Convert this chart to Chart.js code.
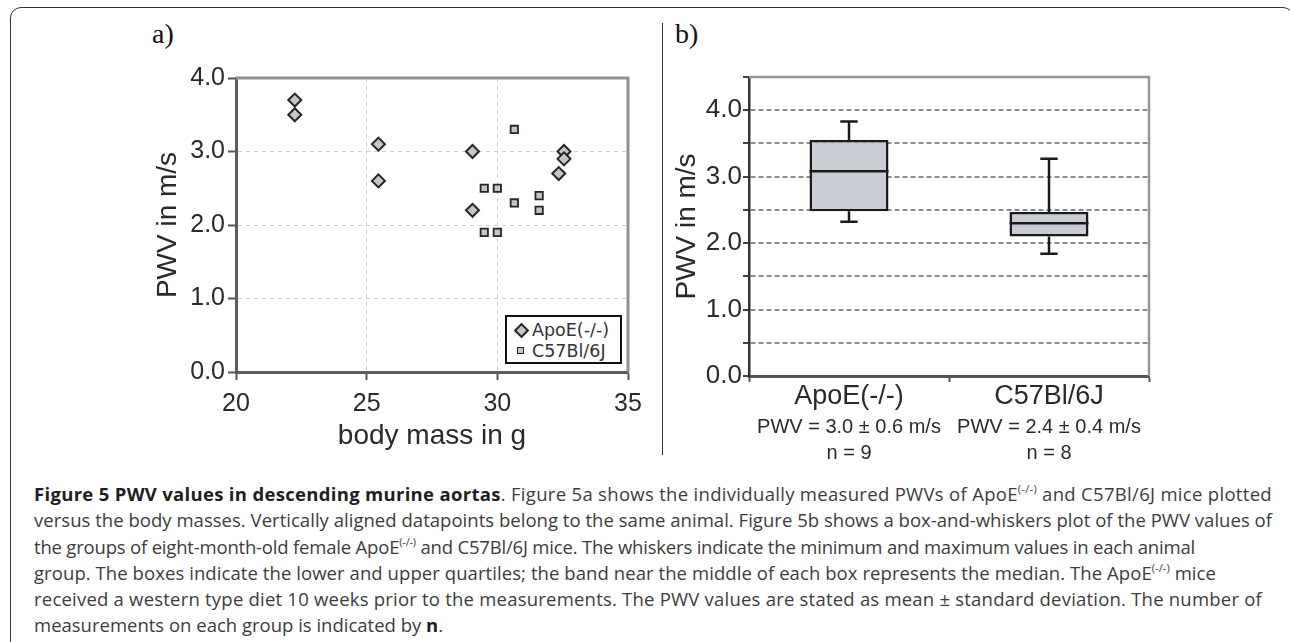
<!DOCTYPE html>
<html>
<head>
<meta charset="utf-8">
<script src="https://cdn.jsdelivr.net/npm/chart.js@4.4.1/dist/chart.umd.min.js"></script>
<style>
  html, body { margin: 0; padding: 0; background: #fff; width: 1290px; height: 642px; overflow: hidden; position: relative; }
  .frame { position: absolute; left: 10px; top: 7px; width: 1284px; height: 700px; border: 1.5px solid #333; border-radius: 11px; box-sizing: border-box; }
  .divider { position: absolute; left: 662px; top: 23px; width: 0; height: 432px; border-left: 1.5px solid #333; }
  .plabel { position: absolute; font-family: 'Liberation Serif', 'Times New Roman', serif; font-size: 28px; line-height: 28px; color: #111; }
  canvas { position: absolute; }
  .legend { position: absolute; left: 505px; top: 315px; width: 117px; height: 49px; border: 2px solid #111; background: #fff; box-sizing: border-box; font-family: 'DejaVu Sans', sans-serif; font-size: 17.5px; color: #333; }
  .legend .row { position: absolute; left: 0; height: 20px; line-height: 20px; white-space: nowrap; }
  .legend .txt { position: absolute; left: 25px; top: 0; }
  .mk-d { position: absolute; left: 9px; top: 5px; width: 7px; height: 7px; border: 2px solid #222; background: #c3c6cc; transform: rotate(45deg); }
  .mk-s { position: absolute; left: 10px; top: 6px; width: 5px; height: 5px; border: 1.7px solid #222; background: #c3c6cc; }
  .caption { position: absolute; left: 34px; top: 481px; font-family: 'Open Sans', 'Noto Sans', sans-serif; font-size: 18.5px; line-height: 26.3px; color: #3c3c3c; }
  .caption div { white-space: nowrap; }
  .caption b { color: #1e1e1e; }
  .caption sup { font-size: 11px; vertical-align: 8px; line-height: 0; }
</style>
</head>
<body>
<div class="frame"></div>
<div class="divider"></div>
<div class="plabel" style="left:152px; top:20px;">a)</div>
<div class="plabel" style="left:675px; top:20px;">b)</div>

<canvas id="chartA" width="530" height="400" style="left:130px; top:60px;"></canvas>
<canvas id="chartB" width="500" height="410" style="left:665px; top:60px;"></canvas>

<div class="legend">
  <div class="row" style="top:3px;"><span class="mk-d"></span><span class="txt">ApoE(-/-)</span></div>
  <div class="row" style="top:24px;"><span class="mk-s"></span><span class="txt">C57Bl/6J</span></div>
</div>

<div class="caption">
  <div data-end="1272"><span><b>Figure 5 PWV values in descending murine aortas</b>. Figure 5a shows the individually measured PWVs of ApoE<sup>(-/-)</sup> and C57Bl/6J mice plotted</span></div>
  <div data-end="1272"><span>versus the body masses. Vertically aligned datapoints belong to the same animal. Figure 5b shows a box-and-whiskers plot of the PWV values of</span></div>
  <div data-end="1195"><span>the groups of eight-month-old female ApoE<sup>(-/-)</sup> and C57Bl/6J mice. The whiskers indicate the minimum and maximum values in each animal</span></div>
  <div data-end="1216"><span>group. The boxes indicate the lower and upper quartiles; the band near the middle of each box represents the median. The ApoE<sup>(-/-)</sup> mice</span></div>
  <div data-end="1262"><span>received a western type diet 10 weeks prior to the measurements. The PWV values are stated as mean ± standard deviation. The number of</span></div>
  <div><span>measurements on each group is indicated by <b>n</b>.</span></div>
</div>

<script>
// ---------- Data: panel a (scatter) ----------
const apoeMass = [22.25, 22.25, 25.45, 25.45, 29.05, 29.05, 32.55, 32.55, 32.35];
const apoePwv  = [3.7, 3.5, 3.1, 2.6, 3.0, 2.2, 3.0, 2.9, 2.7];
const c57Mass  = [30.65, 29.5, 30.0, 30.65, 31.6, 31.6, 29.5, 30.0];
const c57Pwv   = [3.3, 2.5, 2.5, 2.3, 2.4, 2.2, 1.9, 1.9];
const seriesNames = ['ApoE(-/-)', 'C57Bl/6J'];

// ---------- Data: panel b (box plot) ----------
const groups    = ['ApoE(-/-)', 'C57Bl/6J'];
const boxMin    = [2.32, 1.84];
const boxQ1     = [2.48, 2.10];
const boxMedian = [3.08, 2.30];
const boxQ3     = [3.55, 2.47];
const boxMax    = [3.83, 3.27];
const meanText  = ['PWV = 3.0 \u00b1 0.6 m/s', 'PWV = 2.4 \u00b1 0.4 m/s'];
const countText = ['n = 9', 'n = 8'];

// fit caption line widths (spread the small difference over the letters)
function fitCaption() {
  document.querySelectorAll('.caption div[data-end]').forEach(div => {
    const span = div.firstElementChild;
    span.style.letterSpacing = '0px';
    const r = span.getBoundingClientRect();
    const target = Number(div.dataset.end) - r.left;
    const n = span.textContent.length;
    if (n) span.style.letterSpacing = ((target - r.width) / n) + 'px';
  });
}
fitCaption();
if (document.fonts && document.fonts.ready) document.fonts.ready.then(fitCaption);

Chart.defaults.animation = false;
Chart.defaults.devicePixelRatio = 1;
const SANS = "'Liberation Sans', Arial, sans-serif";
const TXT = '#2a2a2a';

const frameBorder = {
  id: 'frameBorder',
  afterDraw(chart, args, opts) {
    const {ctx, chartArea: a} = chart;
    ctx.save();
    ctx.strokeStyle = opts.color;
    ctx.lineWidth = opts.width;
    ctx.beginPath();
    ctx.moveTo(a.left, a.top);
    ctx.lineTo(a.right, a.top);
    ctx.lineTo(a.right, a.bottom);
    ctx.stroke();
    ctx.restore();
  }
};

function hideEnds(min, max, color) {
  return (c) => (c.tick && (c.tick.value === min || c.tick.value === max)) ? 'rgba(0,0,0,0)' : color;
}

// ---------- Panel a ----------
new Chart(document.getElementById('chartA'), {
  type: 'scatter',
  data: {
    datasets: [
      {
        label: seriesNames[0],
        data: apoeMass.map((m, i) => ({x: m, y: apoePwv[i]})),
        pointStyle: 'rectRot', pointRadius: 6.5, pointHoverRadius: 6.5,
        backgroundColor: '#c3c6cc', borderColor: '#262626', borderWidth: 2
      },
      {
        label: seriesNames[1],
        data: c57Mass.map((m, i) => ({x: m, y: c57Pwv[i]})),
        pointStyle: 'rect', pointRadius: 5.2, pointHoverRadius: 5.2,
        backgroundColor: '#c3c6cc', borderColor: '#262626', borderWidth: 1.8
      }
    ]
  },
  options: {
    responsive: false,
    layout: { padding: { top: 15, right: 32, left: 0, bottom: 0 } },
    plugins: { legend: { display: false }, tooltip: { enabled: false },
      frameBorder: { color: '#8b9298', width: 3 } },
    scales: {
      x: {
        type: 'linear', min: 20, max: 35,
        ticks: { stepSize: 5, color: TXT, font: { family: SANS, size: 25 }, padding: 9, maxRotation: 0 },
        grid: { color: hideEnds(20, 35, '#cfcfcf'), lineWidth: 1, tickLength: 8, tickColor: '#555', tickWidth: 2 },
        border: { color: '#5c5c5c', width: 3, dash: [4, 4] },
        title: { display: true, text: 'body mass in g', color: TXT, font: { family: SANS, size: 28 }, padding: { top: 0, bottom: 7 } },
        afterFit(s) { s.height = 88; }
      },
      y: {
        type: 'linear', min: 0, max: 4,
        ticks: { stepSize: 1, color: TXT, font: { family: SANS, size: 25 }, padding: 3, callback: v => Number(v).toFixed(1) },
        grid: { color: hideEnds(0, 4, '#cfcfcf'), lineWidth: 1, tickLength: 8, tickColor: '#555', tickWidth: 2 },
        border: { color: '#5c5c5c', width: 3, dash: [4, 4] },
        title: { display: true, text: 'PWV in m/s', color: TXT, font: { family: SANS, size: 28 }, padding: { top: 21, bottom: 0 } },
        afterFit(s) { s.width = 106; }
      }
    }
  },
  plugins: [frameBorder]
});

// ---------- Panel b ----------
const boxWhisker = {
  id: 'boxWhisker',
  afterDatasetsDraw(chart) {
    const {ctx, scales: {x, y}} = chart;
    const meta = chart.getDatasetMeta(0);
    ctx.save();
    ctx.strokeStyle = '#1a1a1a';
    ctx.lineWidth = 2.5;
    ctx.lineCap = 'butt';
    groups.forEach((g, i) => {
      const cx = x.getPixelForValue(i);
      const half = meta.data[i].width / 2;
      const cap = half * 0.22;
      const pMin = y.getPixelForValue(boxMin[i]);
      const pQ1 = y.getPixelForValue(boxQ1[i]);
      const pMed = y.getPixelForValue(boxMedian[i]);
      const pQ3 = y.getPixelForValue(boxQ3[i]);
      const pMax = y.getPixelForValue(boxMax[i]);
      ctx.beginPath();
      ctx.moveTo(cx, pQ3); ctx.lineTo(cx, pMax);
      ctx.moveTo(cx - cap, pMax); ctx.lineTo(cx + cap, pMax);
      ctx.moveTo(cx, pQ1); ctx.lineTo(cx, pMin);
      ctx.moveTo(cx - cap, pMin); ctx.lineTo(cx + cap, pMin);
      ctx.moveTo(cx - half, pMed); ctx.lineTo(cx + half, pMed);
      ctx.stroke();
    });
    ctx.restore();
  },
  afterDraw(chart) {
    const {ctx, scales: {x}, chartArea: a} = chart;
    ctx.save();
    ctx.fillStyle = TXT;
    ctx.font = '20px ' + SANS;
    ctx.textAlign = 'center';
    ctx.textBaseline = 'middle';
    groups.forEach((g, i) => {
      const cx = x.getPixelForValue(i);
      ctx.fillText(meanText[i], cx, a.bottom + 51);
      ctx.fillText(countText[i], cx, a.bottom + 77);
    });
    ctx.restore();
  }
};

new Chart(document.getElementById('chartB'), {
  type: 'bar',
  data: {
    labels: groups,
    datasets: [{
      label: 'box',
      data: groups.map((g, i) => [boxQ1[i], boxQ3[i]]),
      backgroundColor: '#c9ccd3',
      borderColor: '#1a1a1a',
      borderWidth: 2.5,
      borderSkipped: false,
      barPercentage: 0.395,
      categoryPercentage: 1.0
    }]
  },
  options: {
    responsive: false,
    layout: { padding: { top: 17, right: 16, left: 0, bottom: 0 } },
    plugins: { legend: { display: false }, tooltip: { enabled: false },
      frameBorder: { color: '#8f969c', width: 2.5 } },
    scales: {
      x: {
        type: 'category', offset: true,
        ticks: { color: TXT, font: { family: SANS, size: 27, lineHeight: 1.1 }, padding: 0, maxRotation: 0 },
        grid: { offset: true, drawOnChartArea: false, tickLength: 6, tickColor: '#555', tickWidth: 2 },
        border: { color: '#555', width: 3 },
        afterFit(s) { s.height = 94; }
      },
      y: {
        type: 'linear', min: 0, max: 4.5,
        ticks: { stepSize: 0.5, autoSkip: false, color: TXT, font: { family: SANS, size: 26 }, padding: 1,
          callback: v => (Math.abs(v % 1) < 1e-9 ? Number(v).toFixed(1) : '') },
        grid: { color: hideEnds(0, 4.5, '#8a8a8a'), lineWidth: 2, tickLength: 6, tickColor: '#444', tickWidth: 2 },
        border: { color: '#333', width: 2.5, dash: [5, 3] },
        title: { display: true, text: 'PWV in m/s', color: TXT, font: { family: SANS, size: 28 }, padding: { top: 5, bottom: 0 } },
        afterFit(s) { s.width = 84; }
      }
    }
  },
  plugins: [frameBorder, boxWhisker]
});
</script>
</body>
</html>
